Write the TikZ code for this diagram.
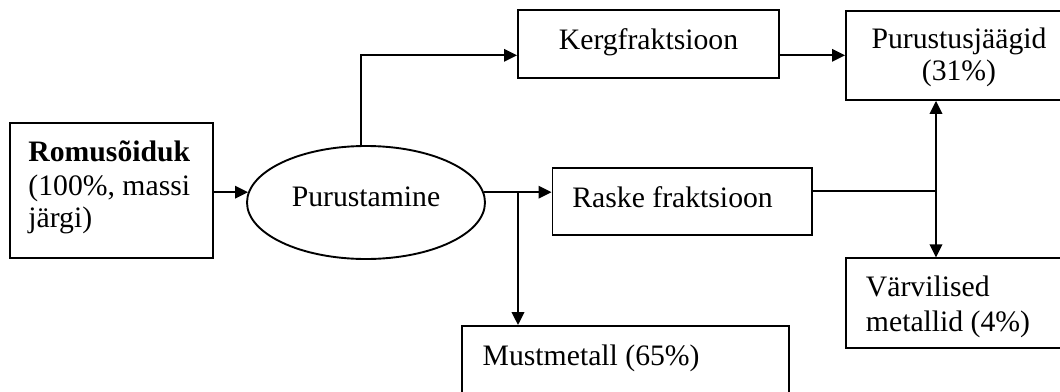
\documentclass[tikz,border=0pt]{standalone}
\usepackage{fontspec}
\setmainfont{Liberation Serif}
\usetikzlibrary{arrows.meta,shapes.geometric}
\begin{document}
\begin{tikzpicture}[x=1pt,y=-1pt,line width=1.9pt,
  font=\fontsize{29.7}{33}\selectfont,
  box/.style={draw,rectangle,inner sep=0pt},
  oval/.style={draw,ellipse,inner sep=0pt},
  txt/.style={inner sep=0pt,anchor=base west},
  ctxt/.style={inner sep=0pt,anchor=base},
  arr/.style={-{Triangle[length=13pt,width=12.5pt]}}]
\clip (0,0) rectangle (1060,391);
\fill[white] (0,0) rectangle (1060,391);
% boxes
\node[box,minimum width=203.3pt,minimum height=135pt] (rom) at (111.7,190.8) {};
\node[oval,minimum width=238pt,minimum height=113pt] (purus) at (366,202.5) {};
\node[box,minimum width=261pt,minimum height=68pt] (kerg) at (648.5,44.2) {};
\node[box,minimum width=226pt,minimum height=89.3pt] (jaak) at (959,55.3) {};
\node[box,minimum width=259.5pt,minimum height=66.7pt] (raske) at (682.25,201.65) {};
\node[box,minimum width=226pt,minimum height=90pt] (varv) at (959,303.3) {};
\node[box,minimum width=327.3pt,minimum height=80pt] (must) at (625.35,366) {};
% texts
\node[txt] (romA) at (27.5,161.7) {\bfseries Romusõiduk};
\node[txt] (romB) at (27.5,195) {(100\%, massi};
\node[txt] (romC) at (27.5,227.5) {järgi)};
\node[ctxt] (purusT) at (366,206) {Purustamine};
\node[ctxt] (kergT) at (648.5,49) {Kergfraktsioon};
\node[ctxt] (jaakA) at (959,48.3) {Purustusjäägid};
\node[ctxt] (jaakB) at (959,80.5) {(31\%)};
\node[txt] (raskeT) at (571.4,207) {Raske fraktsioon};
\node[txt] (varvA) at (865,296.7) {Värvilised};
\node[txt] (varvB) at (865,331.7) {metallid (4\%)};
\node[txt] (mustT) at (481.7,365) {Mustmetall (65\%)};
% junctions
\coordinate (split) at (518,192);
\coordinate (junc) at (936,191);
% connectors
\draw[arr] (purus.175 -| rom.east) -- (purus.175);
\draw[arr] ([xshift=-5.3pt]purus.north) |- (kerg.west |- jaak.west);
\draw[arr] (kerg.east |- jaak.west) -- (jaak.west);
\draw[arr] (purus.5) -- (purus.5 -| raske.west);
\draw[arr] (split) -- (split |- must.north);
\draw (junc -| raske.east) -- (junc);
\draw[arr] (junc) -- (junc |- jaak.south);
\draw[arr] (junc) -- (junc |- varv.north);
\end{tikzpicture}
\end{document}
